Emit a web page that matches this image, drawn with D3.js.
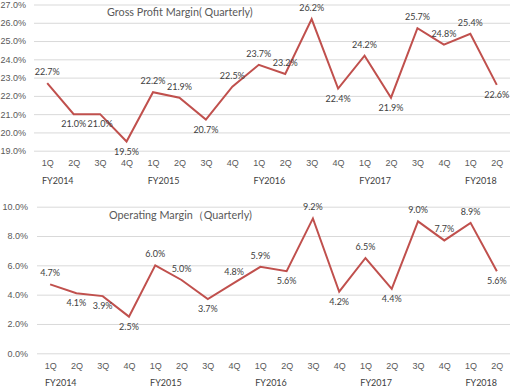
<!DOCTYPE html>
<html>
<head>
<meta charset="utf-8">
<script src="https://cdn.jsdelivr.net/npm/d3@7"></script>
<style>
  body { margin: 0; background: #fff; }
  svg { display: block; font-family: Lato, "Open Sans", sans-serif; }
  .grid line { stroke: #d9d9d9; stroke-width: 1; }
  .tick text { fill: #595959; font-size: 9px; }
  .fy { fill: #404040; font-size: 9px; }
  .title { fill: #595959; font-size: 10.8px; }
  .dlabel { fill: #404040; font-size: 9px; }
</style>
</head>
<body>
<script>
// categories
const years = ["FY2014", "FY2015", "FY2016", "FY2017", "FY2018"];
const quarters = ["1Q", "2Q", "3Q", "4Q", "1Q", "2Q", "3Q", "4Q", "1Q", "2Q", "3Q", "4Q",
  "1Q", "2Q", "3Q", "4Q", "1Q", "2Q"];
const quarterYear = [0, 0, 0, 0, 1, 1, 1, 1, 2, 2, 2, 2, 3, 3, 3, 3, 4, 4];

// series values (%)
const grossMargin = [22.7, 21.0, 21.0, 19.5, 22.2, 21.9, 20.7, 22.5, 23.7, 23.2, 26.2, 22.4,
  24.2, 21.9, 25.7, 24.8, 25.4, 22.6];
const operatingMargin = [4.7, 4.1, 3.9, 2.5, 6.0, 5.0, 3.7, 4.8, 5.9, 5.6, 9.2, 4.2,
  6.5, 4.4, 9.0, 7.7, 8.9, 5.6];

// which side of the point each data label sits on
const grossLabelSide = ["a", "b", "b", "b", "a", "a", "b", "a", "a", "a", "a", "b",
  "a", "b", "a", "a", "a", "b"];
const operatingLabelSide = ["a", "b", "b", "b", "a", "a", "b", "a", "a", "b", "a", "b",
  "a", "b", "a", "a", "a", "b"];

// y axis ticks
const grossTicks = [19, 20, 21, 22, 23, 24, 25, 26, 27];
const operatingTicks = [0, 2, 4, 6, 8, 10];

const LINE_COLOR = "#c0504d";
const width = 511, height = 389;

const svg = d3.select("body").append("svg")
  .attr("width", width)
  .attr("height", height);

const keys = quarters.map((q, i) => i);

function drawPanel(opts) {
  const g = svg.append("g");

  const x = d3.scalePoint()
    .domain(keys)
    .range([opts.left, opts.right])
    .padding(0.5);

  const y = d3.scaleLinear()
    .domain(opts.domain)
    .range([opts.bottom, opts.top]);

  // gridlines + y labels
  const yAxis = g.append("g")
    .attr("class", "grid")
    .attr("transform", `translate(${opts.left},0)`)
    .call(d3.axisLeft(y)
      .tickValues(opts.ticks)
      .tickSize(-(opts.right - opts.left))
      .tickPadding(opts.left === 34 ? 8 : 9)
      .tickFormat(d => d.toFixed(1) + "%"));
  yAxis.select(".domain").remove();

  // quarter labels
  const xAxis = g.append("g")
    .attr("transform", `translate(0,${opts.bottom})`)
    .call(d3.axisBottom(x)
      .tickSize(0)
      .tickPadding(9)
      .tickFormat(i => quarters[i]));
  xAxis.select(".domain").remove();

  // fiscal year labels under the first quarter of each year
  const step = x.step();
  g.selectAll("text.fy")
    .data(years)
    .enter()
    .append("text")
    .attr("class", "fy")
    .attr("x", (d, j) => x(quarterYear.indexOf(j)) - step / 2 + 8)
    .attr("y", opts.bottom + 33)
    .text(d => d);

  // title
  g.append("text")
    .attr("class", "title")
    .attr("x", opts.titleX)
    .attr("y", opts.titleY)
    .text(opts.title);

  const line = d3.line()
    .x((d, i) => x(i))
    .y(d => y(d));

  g.append("path")
    .datum(opts.values)
    .attr("fill", "none")
    .attr("stroke", LINE_COLOR)
    .attr("stroke-width", 2)
    .attr("stroke-linejoin", "miter")
    .attr("d", line);

  g.selectAll("text.dlabel")
    .data(opts.values)
    .enter()
    .append("text")
    .attr("class", "dlabel")
    .attr("text-anchor", "middle")
    .attr("x", (d, i) => x(i))
    .attr("y", (d, i) => y(d) + (opts.sides[i] === "a" ? -8 : 13))
    .text(d => d.toFixed(1) + "%");
}

drawPanel({
  values: grossMargin,
  sides: grossLabelSide,
  domain: [19, 27],
  ticks: grossTicks,
  left: 34, right: 510,
  top: 4.5, bottom: 150.7,
  title: "Gross Profit Margin( Quarterly)",
  titleX: 107, titleY: 16
});

drawPanel({
  values: operatingMargin,
  sides: operatingLabelSide,
  domain: [0, 10],
  ticks: operatingTicks,
  left: 37, right: 510,
  top: 206.7, bottom: 353.3,
  title: "Operating Margin（Quarterly)",
  titleX: 109, titleY: 219
});
</script>
</body>
</html>
